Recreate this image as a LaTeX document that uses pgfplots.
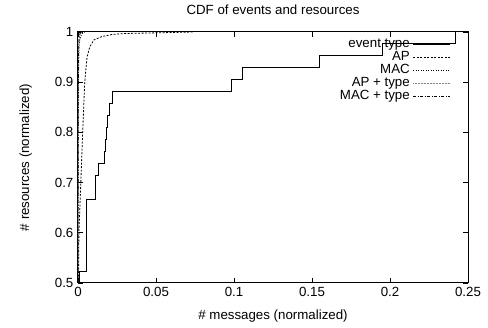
\documentclass[border=0pt]{standalone}
\usepackage{fontspec}
\setmainfont{Liberation Sans}
\usepackage{pgfplots}
\pgfplotsset{compat=1.18}
\begin{document}
\fontsize{13.3}{16}\selectfont
\begin{tikzpicture}
\begin{axis}[
  scale only axis, width=390pt, height=251pt,
  xmin=0, xmax=0.25, ymin=0.5, ymax=1,
  xtick={0,0.05,0.1,0.15,0.2,0.25},
  ytick={0.5,0.6,0.7,0.8,0.9,1},
  /pgf/number format/assume math mode=true,
  /pgf/number format/fixed,
  /pgf/number format/precision=2,
  scaled ticks=false,
  tick align=inside, major tick length=5pt,
  xtick pos=both, ytick pos=both,
  tick style={black, line width=0.6pt},
  axis line style={line width=1pt},
  tick label style={font=\fontsize{13.3}{16}\selectfont},
  label style={font=\fontsize{13.3}{16}\selectfont},
  title style={font=\fontsize{13.3}{16}\selectfont, yshift=7pt},
  title={CDF of events and resources},
  xlabel={\# messages (normalized)},
  ylabel={\# resources (normalized)},
  xlabel shift=4pt,
  ylabel shift=14pt,
  legend cell align=right,
  legend plot pos=right,
  legend style={draw=none, fill=none, at={(1,1)}, anchor=north east, xshift=-14pt, yshift=-3.5pt,
    font=\fontsize{13.3}{16}\selectfont,
    nodes={inner xsep=3pt, inner ysep=0pt, text height=10pt, text depth=3pt}},
  legend image code/.code={\draw[#1] (0pt,0pt) -- (37pt,0pt);},
]
% event type
\addplot[black, line width=1pt, const plot] coordinates {
(0.0008,0.45) (0.0008,0.5238) (0.0053,0.6667) (0.0115,0.7143) (0.0133,0.7381)
(0.0168,0.7619) (0.0175,0.7857) (0.0183,0.8095) (0.0189,0.8333) (0.0201,0.8571)
(0.0222,0.8810) (0.0987,0.9048) (0.1053,0.9286) (0.1547,0.9524) (0.1950,0.9762)
(0.2421,1.0) (0.26,1.0)};
\addlegendentry{event type}
% AP
\addplot[black, line width=0.8pt, dash pattern=on 2pt off 1.5pt] coordinates {
(0.0,0.45) (0.0003,0.5) (0.0006,0.6) (0.0018,0.7) (0.0030,0.8) (0.0043,0.9)
(0.0058,0.95) (0.0075,0.97) (0.0101,0.984) (0.0154,0.991) (0.0218,0.995)
(0.0300,0.997) (0.0450,0.998) (0.0600,0.999) (0.0737,1.0)};
\addlegendentry{AP}
% MAC
\addplot[black, line width=0.8pt, dash pattern=on 1pt off 1.5pt] coordinates {
(0.0,0.45) (0.0001,0.6) (0.0002,0.8) (0.0004,0.93) (0.0007,0.97) (0.0012,0.985)
(0.0020,0.993) (0.0030,0.998) (0.0045,1.0)};
\addlegendentry{MAC}
% AP + type
\addplot[gray, line width=0.8pt, dash pattern=on 0.7pt off 0.8pt] coordinates {
(0.0,0.45) (0.0001,0.7) (0.0002,0.9) (0.0004,0.97) (0.0008,0.99) (0.0015,0.997) (0.0025,1.0)};
\addlegendentry{AP + type}
% MAC + type
\addplot[black, line width=0.8pt, dash pattern=on 3pt off 1.5pt on 1pt off 1.5pt] coordinates {
(0.0,0.45) (0.0001,0.8) (0.0003,0.95) (0.0006,0.985) (0.0012,0.996) (0.0020,1.0)};
\addlegendentry{MAC + type}
\end{axis}
\pgfresetboundingbox
\path (-78pt,-45pt) rectangle (410pt,283pt);
\end{tikzpicture}
\end{document}
